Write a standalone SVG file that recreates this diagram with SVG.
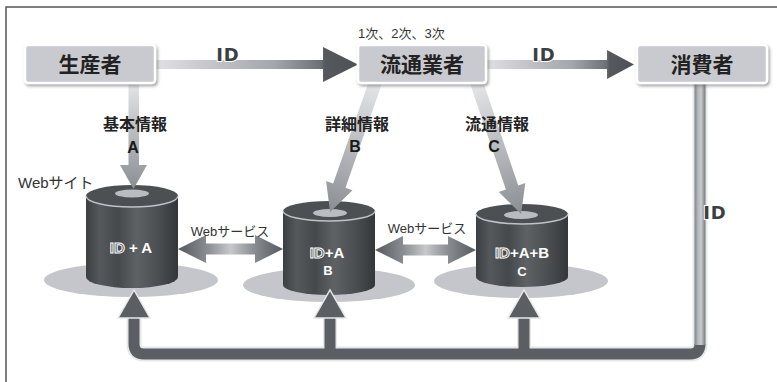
<svg xmlns="http://www.w3.org/2000/svg" width="777" height="382" viewBox="0 0 777 382">
<style>
.box{fill:#c9cad0;stroke:#fff;stroke-width:2.5}
.nodeTxt{font-family:"Noto Sans CJK JP",sans-serif;font-weight:bold;font-size:21px;fill:#222;text-anchor:middle}
.info{font-family:"Noto Sans CJK JP",sans-serif;font-weight:bold;font-size:16px;fill:#222;text-anchor:middle}
.letter{font-family:"Liberation Sans",Arial,sans-serif;font-weight:bold;font-size:16px;fill:#1a1a1a;text-anchor:middle}
.idl{font-family:"DejaVu Sans",sans-serif;font-weight:bold;font-size:18px;fill:#3c3f42;stroke:#fff;stroke-width:2;paint-order:stroke;letter-spacing:1px;text-anchor:middle}
.small{font-family:"Liberation Sans","Noto Sans CJK JP",sans-serif;font-size:13px;fill:#333}
.cylTxt{font-family:"Liberation Sans",Arial,sans-serif;font-weight:bold;font-size:15px;fill:#fff;text-anchor:middle}
.hollow{fill:#4b4f52;stroke:#fff;stroke-width:1}
.base{fill:#c4c6cb}
.body{fill:url(#gCyl)}
.top{fill:#4c5053}
.rim{fill:none;stroke:#bfc2c6;stroke-width:1.5}
.hole{fill:#b9bcc0}
.ws{fill:url(#gWs)}
.up{fill:#5b5f63;stroke:#e6e7e9;stroke-width:1.5}
</style>
<defs>
<filter id="sh" x="-10%" y="-20%" width="125%" height="150%"><feDropShadow dx="1.5" dy="2" stdDeviation="1.5" flood-color="#666" flood-opacity="0.6"/></filter>
<linearGradient id="gId" x1="0" y1="0" x2="1" y2="0"><stop offset="0" stop-color="#e3e4e6"/><stop offset="0.6" stop-color="#a3a6aa"/><stop offset="0.82" stop-color="#6d7175"/><stop offset="0.84" stop-color="#55595d"/><stop offset="1" stop-color="#4e5256"/></linearGradient>
<linearGradient id="gInfo" x1="0" y1="0" x2="1" y2="0"><stop offset="0" stop-color="#e8e9eb"/><stop offset="0.7" stop-color="#a6a9ad"/><stop offset="1" stop-color="#8a8d91"/></linearGradient>
<linearGradient id="gInfoV" x1="0" y1="0" x2="0" y2="1"><stop offset="0" stop-color="#e8e9eb"/><stop offset="0.7" stop-color="#a6a9ad"/><stop offset="1" stop-color="#8a8d91"/></linearGradient>
<linearGradient id="gWs" x1="0" y1="0" x2="1" y2="0"><stop offset="0" stop-color="#55595d"/><stop offset="0.28" stop-color="#8a8d91"/><stop offset="0.5" stop-color="#c6c8cb"/><stop offset="0.72" stop-color="#8a8d91"/><stop offset="1" stop-color="#55595d"/></linearGradient>
<linearGradient id="gCyl" x1="0" y1="0" x2="1" y2="0"><stop offset="0" stop-color="#3b3f42"/><stop offset="0.15" stop-color="#55595c"/><stop offset="0.35" stop-color="#45494c"/><stop offset="0.55" stop-color="#5e6265"/><stop offset="0.8" stop-color="#494d50"/><stop offset="1" stop-color="#34373a"/></linearGradient>
<linearGradient id="gRight" x1="0" y1="0" x2="1" y2="0"><stop offset="0" stop-color="#7d8185"/><stop offset="0.3" stop-color="#b3b6ba"/><stop offset="0.6" stop-color="#c9cbce"/><stop offset="1" stop-color="#74787c"/></linearGradient>
</defs>
<rect x="0" y="0" width="777" height="382" fill="#fff"/>
<path d="M6,382 V7 H777" fill="none" stroke="#555" stroke-width="1.5"/>

<g id="site1">
<ellipse class="base" cx="131" cy="280" rx="87" ry="17"/>
<path class="body" d="M86,196 V277 A46,11 0 0 0 178,277 V196 Z"/>
<ellipse class="top" cx="132" cy="196" rx="46" ry="11"/>
<path class="rim" d="M86,196 A46,11 0 0 0 178,196"/>
<ellipse class="hole" cx="132" cy="193.5" rx="17" ry="4"/>
<text class="cylTxt" x="131" y="253"><tspan class="hollow">ID</tspan> + A</text>
</g>
<g id="site2">
<ellipse class="base" cx="329" cy="285" rx="86" ry="17"/>
<path class="body" d="M283,211 V285 A46,10 0 0 0 375,285 V211 Z"/>
<ellipse class="top" cx="329" cy="211" rx="46" ry="10"/>
<path class="rim" d="M283,211 A46,10 0 0 0 375,211"/>
<ellipse class="hole" cx="330" cy="213" rx="17" ry="4"/>
<text class="cylTxt" x="327" y="258"><tspan class="hollow">ID</tspan>+A</text>
<text class="cylTxt" x="328" y="275" style="font-size:13px">B</text>
</g>
<g id="site3">
<ellipse class="base" cx="521" cy="281" rx="87" ry="17"/>
<path class="body" d="M476,214 V277 A46,10 0 0 0 568,277 V214 Z"/>
<ellipse class="top" cx="522" cy="214" rx="46" ry="10"/>
<path class="rim" d="M476,214 A46,10 0 0 0 568,214"/>
<ellipse class="hole" cx="521" cy="215" rx="17" ry="4"/>
<text class="cylTxt" x="522" y="258"><tspan class="hollow">ID</tspan>+A+B</text>
<text class="cylTxt" x="522" y="276" style="font-size:13px">C</text>
</g>

<g id="connectors">
<path fill="url(#gId)" d="M150,60 H323 V47 L358,64.5 L323,82 V69 H150 Z"/>
<path fill="url(#gId)" d="M480,60 H607 V50 L634,64.5 L607,79 V69 H480 Z"/>
<path fill="url(#gInfoV)" d="M128.5,78 H139 V165 H147 L133.5,189 L120,165 H128.5 Z"/>
<path fill="url(#gInfo)" transform="translate(377,78) rotate(109.3)" d="M0,-6.5 H114 V-14 L142,0 L114,14 V6.5 H0 Z"/>
<path fill="url(#gInfo)" transform="translate(475,78) rotate(71.3)" d="M0,-6.5 H115.6 V-14 L143.6,0 L115.6,14 V6.5 H0 Z"/>
<path class="ws" d="M178,249 L206,235 V243.5 H255 V235 L283,249 L255,263 V254.5 H206 V263 Z"/>
<path class="ws" d="M375,250 L403,236 V244.5 H448 V236 L476,250 L448,264 V255.5 H403 V264 Z"/>
<path d="M134,316 V344 Q134,354 144,354 H690 Q700,354 700,344 V83" fill="none" stroke="#e6e7e9" stroke-width="15" stroke-linejoin="round"/>
<path d="M330,316 V354 M524,316 V354" fill="none" stroke="#e6e7e9" stroke-width="14"/>
<path d="M134,316 V344 Q134,354 144,354 H690 Q700,354 700,344" fill="none" stroke="#5b5f63" stroke-width="11"/>
<path d="M330,314 V354 M524,314 V354" fill="none" stroke="#5b5f63" stroke-width="11"/>
<rect x="694.5" y="83" width="11" height="262" fill="url(#gRight)"/>
<polygon class="up" points="118,318 150,318 134,290"/>
<polygon class="up" points="314,318 346,318 330,290"/>
<polygon class="up" points="508,318 540,318 524,290"/>
</g>

<g id="producer">
<rect class="box" x="25" y="45" width="130" height="38" rx="3" filter="url(#sh)"/>
<text class="nodeTxt" x="90" y="72">生産者</text>
</g>
<g id="distributor">
<rect class="box" x="358" y="45" width="128" height="38" rx="3" filter="url(#sh)"/>
<text class="nodeTxt" x="422" y="72">流通業者</text>
</g>
<g id="consumer">
<rect class="box" x="637" y="45" width="130" height="38" rx="3" filter="url(#sh)"/>
<text class="nodeTxt" x="702" y="72">消費者</text>
</g>

<g id="labels">
<text class="small" x="358" y="38">1次、2次、3次</text>
<text class="idl" x="228" y="61">ID</text>
<text class="idl" x="544" y="61">ID</text>
<text class="idl" x="715" y="219">ID</text>
<text class="info" x="135" y="130">基本情報</text>
<text class="letter" x="133" y="153">A</text>
<text class="info" x="357" y="130">詳細情報</text>
<text class="letter" x="355" y="152">B</text>
<text class="info" x="497" y="130">流通情報</text>
<text class="letter" x="494" y="152">C</text>
<text class="small" x="18" y="188" style="font-size:15px">Webサイト</text>
<text class="small" x="230" y="236" text-anchor="middle">Webサービス</text>
<text class="small" x="427" y="233" text-anchor="middle">Webサービス</text>
</g>
</svg>
